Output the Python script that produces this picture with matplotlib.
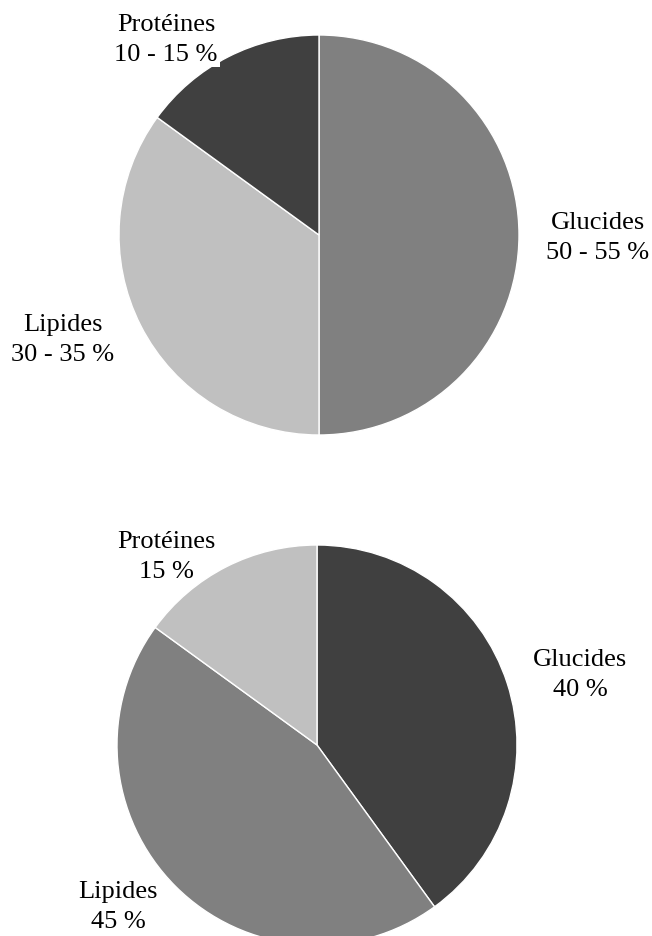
import matplotlib
matplotlib.use("Agg")
import matplotlib.pyplot as plt

# Energy intake breakdown: recommended (top) vs. actual (bottom)
categories = ["Glucides", "Lipides", "Protéines"]
recommended_values = [50, 35, 15]
recommended_labels = ["50 - 55 %", "30 - 35 %", "10 - 15 %"]
actual_values = [40, 45, 15]
actual_labels = ["40 %", "45 %", "15 %"]

top_colors = ["#808080", "#c0c0c0", "#404040"]
bottom_colors = ["#404040", "#808080", "#c0c0c0"]

W, H = 652, 937
fig = plt.figure(figsize=(W / 100, H / 100), dpi=100)
ax = fig.add_axes([0, 0, 1, 1])

plt.rcParams["font.family"] = ["Liberation Serif", "DejaVu Serif"]

wedge_style = dict(edgecolor="white", linewidth=1)

ax.pie(recommended_values, colors=top_colors, startangle=90, counterclock=False,
       center=(319, H - 236), radius=200, wedgeprops=wedge_style, frame=True)
ax.pie(actual_values, colors=bottom_colors, startangle=90, counterclock=False,
       center=(317, H - 746), radius=200, wedgeprops=wedge_style, frame=True)
ax.set_xlim(0, W)
ax.set_ylim(0, H)
ax.set_aspect("equal")
ax.axis("off")

fs = 19
text_kw = dict(ha="center", va="center", fontsize=fs, color="black",
               linespacing=1.47, family=["Liberation Serif", "DejaVu Serif"],
               zorder=5)

# recommended pie labels
top_pos = [(598, 238), (63, 340), (166, 40)]
for name, lab, (x, y) in zip(categories, recommended_labels, top_pos):
    kw = dict(text_kw)
    if name == "Protéines":
        kw["bbox"] = dict(facecolor="white", edgecolor="none", pad=1.5)
    ax.text(x, H - y, f"{name}\n{lab}", **kw)

# actual pie labels
bottom_pos = [(580, 675), (118, 907), (166, 557)]
for name, lab, (x, y) in zip(categories, actual_labels, bottom_pos):
    ax.text(x, H - y, f"{name}\n{lab}", **text_kw)

fig.savefig("out.png", dpi=100, facecolor="white")
